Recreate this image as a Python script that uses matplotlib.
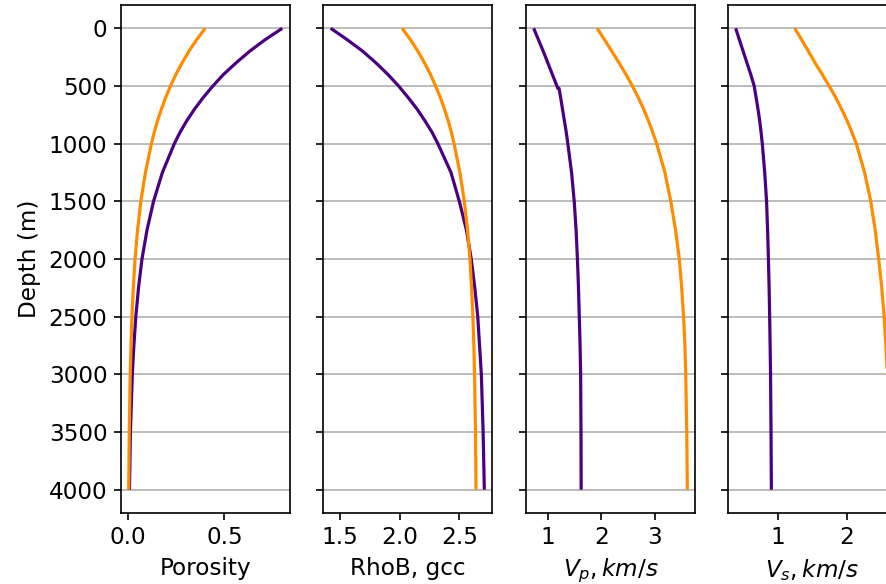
import numpy as np
import matplotlib
matplotlib.use("Agg")
import matplotlib.pyplot as plt
from matplotlib import rcParams

rcParams['font.size'] = 16.7
rcParams['mathtext.default'] = 'it'
rcParams['axes.labelpad'] = 5.6

# depth samples (m)
depth = [0, 100, 200, 300, 400, 500, 600, 700, 800, 900, 1000,
         1250, 1500, 1750, 2000, 2250, 2500, 2750, 3000, 3500, 4000]

# porosity
phi_a = [0.80, 0.71, 0.63, 0.56, 0.495, 0.44, 0.39, 0.345, 0.305, 0.27, 0.24,
         0.178, 0.132, 0.098, 0.072, 0.054, 0.040, 0.030, 0.022, 0.012, 0.007]
phi_b = [0.40, 0.355, 0.315, 0.28, 0.248, 0.22, 0.195, 0.173, 0.153, 0.136, 0.121,
         0.09, 0.066, 0.049, 0.036, 0.027, 0.02, 0.015, 0.011, 0.006, 0.003]

# bulk density, gcc
rho_a = [1.42, 1.56, 1.69, 1.80, 1.90, 1.99, 2.07, 2.145, 2.21, 2.27, 2.32,
         2.43, 2.50, 2.56, 2.60, 2.63, 2.655, 2.67, 2.685, 2.70, 2.71]
rho_b = [2.02, 2.09, 2.153, 2.208, 2.258, 2.30, 2.341, 2.375, 2.406, 2.433, 2.456,
         2.505, 2.542, 2.569, 2.589, 2.603, 2.614, 2.622, 2.628, 2.636, 2.64]

# P velocity, km/s (the first curve has a break near 520 m)
depth_vp_a = [0, 100, 200, 300, 400, 500, 520, 520, 600, 700, 800, 900, 1000,
              1250, 1500, 1750, 2000, 2250, 2500, 2750, 3000, 3500, 4000]
vp_a = [0.73, 0.82, 0.91, 0.995, 1.08, 1.165, 1.18, 1.205, 1.235, 1.27, 1.305, 1.34, 1.37,
        1.44, 1.49, 1.525, 1.55, 1.57, 1.585, 1.60, 1.61, 1.617, 1.62]
vp_b = [1.92, 2.06, 2.195, 2.33, 2.46, 2.58, 2.69, 2.79, 2.88, 2.96, 3.035,
        3.19, 3.30, 3.39, 3.46, 3.505, 3.54, 3.565, 3.58, 3.60, 3.61]

# S velocity, km/s
vs_a = [0.386, 0.44, 0.495, 0.55, 0.605, 0.655, 0.683, 0.71, 0.735, 0.755, 0.773,
        0.808, 0.835, 0.85, 0.862, 0.872, 0.88, 0.887, 0.893, 0.90, 0.905]
vs_b = [1.246, 1.345, 1.445, 1.54, 1.645, 1.745, 1.84, 1.925, 2.005, 2.075, 2.14,
        2.26, 2.35, 2.415, 2.465, 2.51, 2.545, 2.57, 2.59, 2.61, 2.62]

depth_ticks = [0, 500, 1000, 1500, 2000, 2500, 3000, 3500, 4000]
c_a = '#4B0082'
c_b = '#FF8C00'

W, H = 887, 584
fig = plt.figure(figsize=(W / 100, H / 100), dpi=100)

lefts = [121, 323, 526, 728]
axw = 169
bot, top = 512.7, 5.2
axes = []
for i, l in enumerate(lefts):
    rect = [l / W, 1 - bot / H, axw / W, (bot - top) / H]
    if i == 0:
        ax = fig.add_axes(rect)
    else:
        ax = fig.add_axes(rect, sharey=axes[0])
    axes.append(ax)

panels = [
    (depth, phi_a, depth, phi_b, "Porosity", [0.0, 0.5], ["0.0", "0.5"]),
    (depth, rho_a, depth, rho_b, "RhoB, gcc", [1.5, 2.0, 2.5], ["1.5", "2.0", "2.5"]),
    (depth_vp_a, vp_a, depth, vp_b, r"$V_p, km/s$", [1, 2, 3], ["1", "2", "3"]),
    (depth, vs_a, depth, vs_b, r"$V_s, km/s$", [1, 2], ["1", "2"]),
]

for ax, (za, xa, zb, xb, lab, xt, xtl) in zip(axes, panels):
    ax.plot(xa, za, color=c_a, lw=2.3, solid_capstyle='butt')
    ax.plot(xb, zb, color=c_b, lw=2.3, solid_capstyle='butt')
    ax.set_xticks(xt)
    ax.set_xticklabels(xtl)
    ax.set_xlabel(lab)
    ax.grid(axis='y', color='#b0b0b0', lw=1.2)
    ax.set_axisbelow(True)
    for s in ax.spines.values():
        s.set_linewidth(1.2)
    ax.tick_params(length=4.9, width=1.2, pad=4.9)

axes[0].set_yticks(depth_ticks)
axes[0].set_ylim(4200, -200)
axes[0].set_ylabel("Depth (m)")
for ax in axes[1:]:
    ax.tick_params(labelleft=False)

fig.savefig("out.png", dpi=100)
